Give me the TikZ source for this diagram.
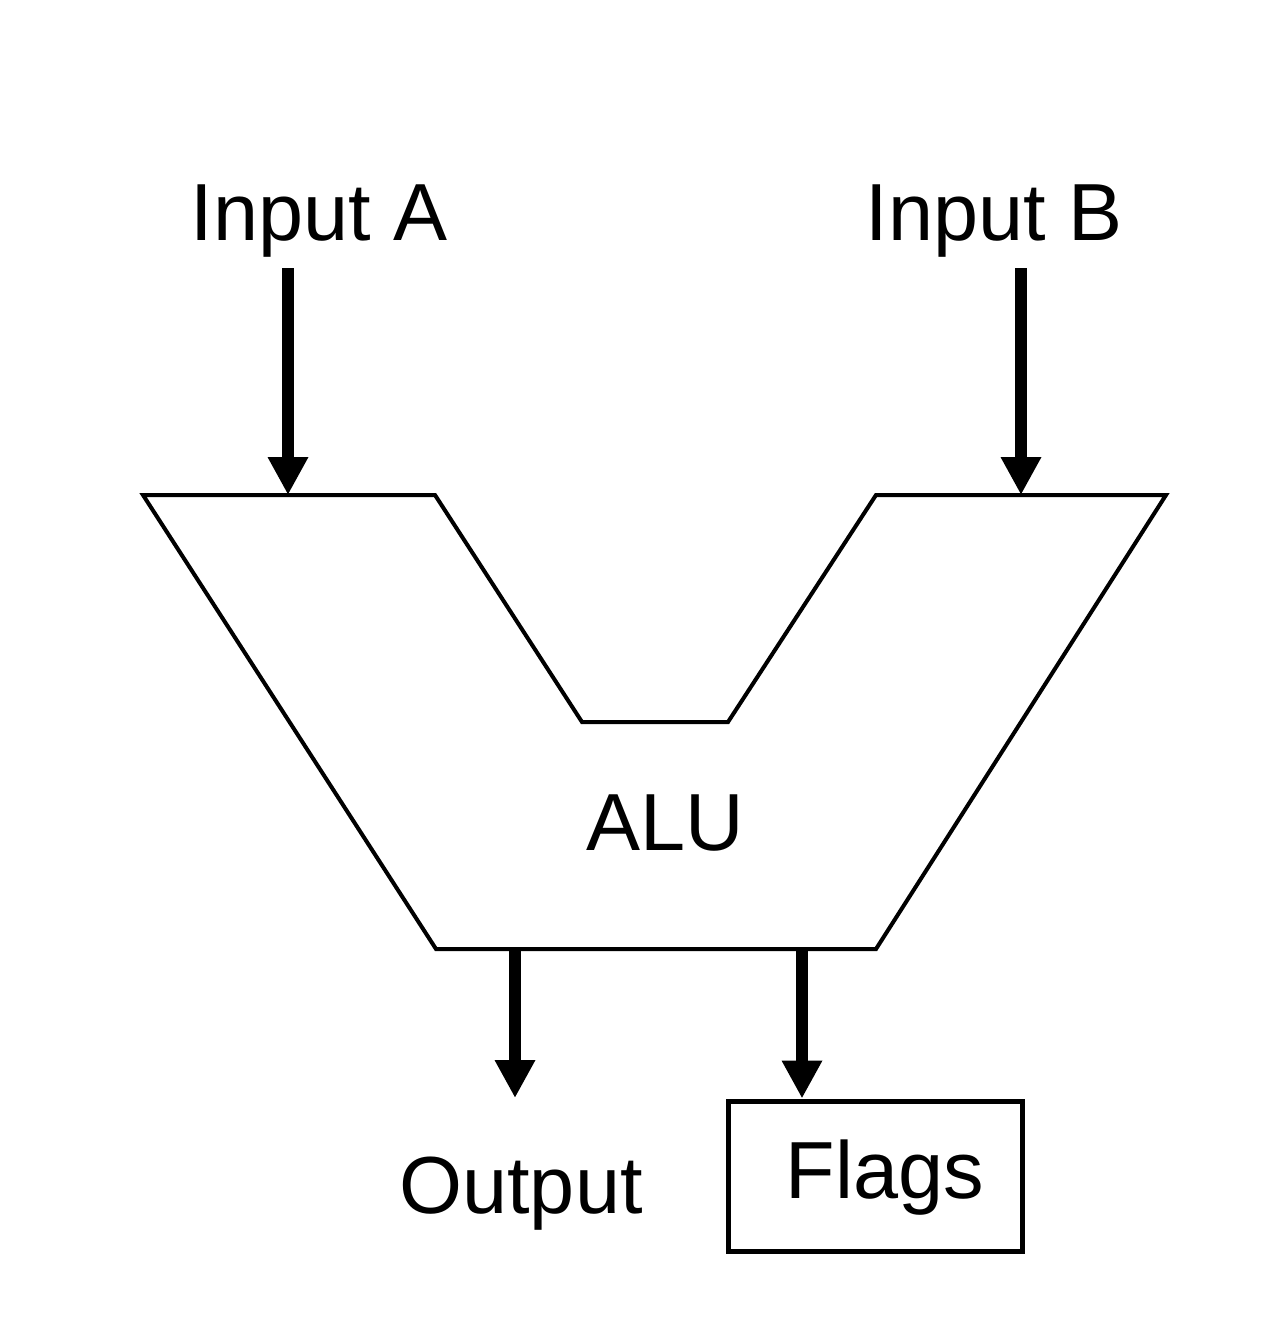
\documentclass[tikz,border=0pt]{standalone}
\usepackage{fontspec}
\setmainfont{Liberation Sans}
\usetikzlibrary{arrows.meta}
\tikzset{
  lbl/.style={font=\fontsize{81}{97}\selectfont, anchor=base, inner sep=0pt},
  fatarrow/.style={line width=12pt, -{Triangle[length=38pt,width=38pt]}},
  alushape/.style={line width=4pt, line join=miter},
  boxstyle/.style={draw, line width=5pt, minimum width=294pt, minimum height=150pt, inner sep=0pt}
}
\begin{document}
\begin{tikzpicture}[x=1pt,y=-1pt]
\useasboundingbox (0,0) rectangle (1278,1342);
\fill[white] (0,0) rectangle (1278,1342);
% ALU outline
\coordinate (p1) at (143,495);
\coordinate (p2) at (435,495);
\coordinate (p3) at (582,722);
\coordinate (p4) at (728,722);
\coordinate (p5) at (876,495);
\coordinate (p6) at (1166,495);
\coordinate (p7) at (876,949);
\coordinate (p8) at (436,949);
\draw[alushape] (p1) -- (p2) -- (p3) -- (p4) -- (p5) -- (p6) -- (p7) -- (p8) -- cycle;
% labels
\node[lbl] (inA) at (319,240) {Input A};
\node[lbl] (inB) at (994,240) {Input B};
\node[lbl] (alu) at (665,850) {ALU};
\node[lbl] (out) at (521,1213) {Output};
\node[boxstyle] (flagbox) at (875,1176) {};
\node[lbl] (flags) at (885,1198) {Flags};
% arrow anchors
\coordinate (aS) at (288,268);
\coordinate (aE) at (288,495);
\coordinate (bS) at (1021,268);
\coordinate (bE) at (1021,495);
\coordinate (oS) at (515,949);
\coordinate (oE) at (515,1098);
\coordinate (fS) at (802,949);
\draw[fatarrow] (aS) -- (aE);
\draw[fatarrow] (bS) -- (bE);
\draw[fatarrow] (oS) -- (oE);
\draw[fatarrow] (fS) -- (fS |- flagbox.north);
\end{tikzpicture}
\end{document}
